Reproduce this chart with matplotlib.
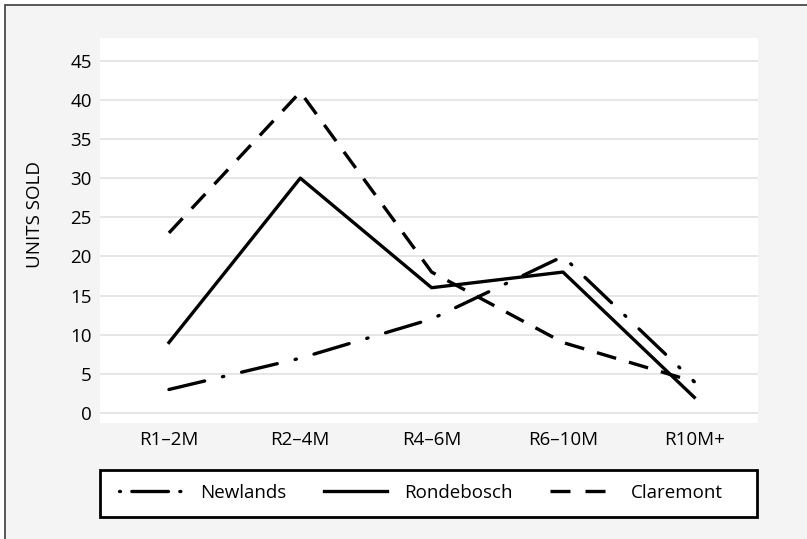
import numpy as np
import matplotlib
matplotlib.use("Agg")
import matplotlib.pyplot as plt
from matplotlib.patches import Rectangle
from matplotlib.lines import Line2D

plt.rcParams["font.family"] = ["Open Sans", "DejaVu Sans"]

CATEGORIES = ["R1\u20132M", "R2\u20134M", "R4\u20136M", "R6\u201310M", "R10M+"]
NEWLANDS = [3, 7, 12, 20, 4]
RONDEBOSCH = [9, 30, 16, 18, 2]
CLAREMONT = [23, 41, 18, 9, 4]
Y_TICKS = [0, 5, 10, 15, 20, 25, 30, 35, 40, 45]

W, H = 807, 539
FS = 13.5
LW = 2.4
DASHDOT = (0, (11, 5.5, 0.4, 5.5))
DASHED = (0, (6, 4))

fig = plt.figure(figsize=(W / 100, H / 100), dpi=100, facecolor="white")

# light grey panel with a dark frame, running off the right and bottom edges
fig.patches.append(Rectangle((5 / W, -0.1), 1.2, 1 - 5 / H + 0.1,
                             transform=fig.transFigure, facecolor="#f4f4f4",
                             edgecolor="#4a4a4a", linewidth=1.3, zorder=-5))

ax = fig.add_axes([100 / W, 1 - 423 / H, 658 / W, 385 / H])
ax.set_facecolor("white")

x = np.arange(len(CATEGORIES))
ax.plot(x, NEWLANDS, color="black", lw=LW, linestyle=DASHDOT,
        dash_capstyle="round", zorder=3)
ax.plot(x, RONDEBOSCH, color="black", lw=LW, zorder=3)
ax.plot(x, CLAREMONT, color="black", lw=LW, linestyle=DASHED, zorder=3)

ax.set_xlim(-0.525, 4.485)
ax.set_ylim(-1.28, 47.9)
ax.set_xticks(x)
ax.set_xticklabels(CATEGORIES)
ax.set_yticks(Y_TICKS)
ax.tick_params(length=0, labelsize=FS, colors="black")
ax.tick_params(axis="y", pad=6)
ax.tick_params(axis="x", pad=6)
ax.grid(axis="y", color="#e6e6e6", linewidth=1.4)
ax.set_axisbelow(True)
for s in ax.spines.values():
    s.set_visible(False)

fig.text(35 / W, 1 - 215 / H, "UNITS SOLD", rotation=90, ha="center",
         va="center", fontsize=FS)

# legend: white box across the plot width, entries centred inside
fig.patches.append(Rectangle((100 / W, 1 - 517 / H), 657 / W, 47 / H,
                             transform=fig.transFigure, facecolor="white",
                             edgecolor="black", linewidth=2.0, zorder=1))
handles = [
    Line2D([], [], color="black", lw=LW,
           linestyle=(0, (0.3, 3.4, 11, 3.4, 0.3, 20)), dash_capstyle="round"),
    Line2D([], [], color="black", lw=LW),
    Line2D([], [], color="black", lw=LW, linestyle=(0, (6, 4.5))),
]
leg = fig.legend(handles, ["Newlands", "Rondebosch", "Claremont"],
                 loc="center", ncol=3, bbox_to_anchor=(421 / W, 1 - 493 / H),
                 frameon=False, fontsize=FS, handlelength=3.4,
                 handletextpad=0.9, columnspacing=2.0)

fig.savefig("out.png", dpi=100)
